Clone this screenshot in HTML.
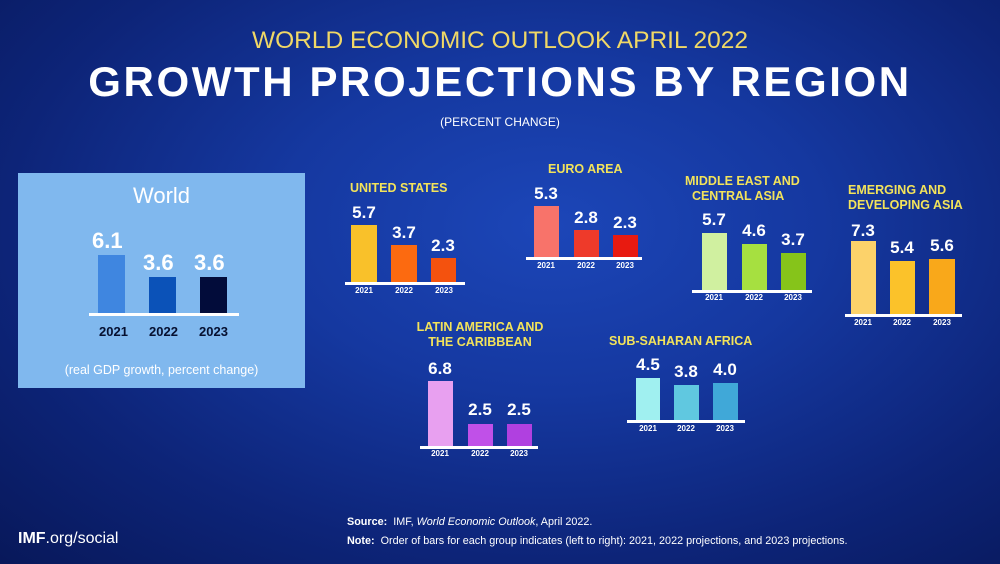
<!DOCTYPE html>
<html><head><meta charset="utf-8"><style>
*{margin:0;padding:0}
body{width:1000px;height:564px;overflow:hidden;position:relative;font-family:"Liberation Sans",sans-serif;
background:radial-gradient(ellipse at 55% 40%,#1c46b8 0%,#1538a0 35%,#0d2478 70%,#08185a 100%);}
.a{position:absolute}
.t{position:absolute;color:#fff;font-weight:bold;white-space:nowrap}
.y{position:absolute;color:#fff;font-weight:bold;font-size:8px;text-align:center;width:30px}
.h{position:absolute;color:#f3e35a;font-weight:bold;font-size:12.5px;line-height:15px;white-space:nowrap}
.v{position:absolute;color:#fff;font-weight:bold;font-size:17px;text-align:center;width:40px}
.ln{position:absolute;height:3px;background:#fff}
</style></head><body>
<div class="a" style="left:0;top:27px;width:1000px;text-align:center;color:#f0d866;font-size:24.5px">WORLD ECONOMIC OUTLOOK APRIL 2022</div>
<div class="a" style="left:0;top:58px;width:1000px;text-align:center;color:#fff;font-size:42px;font-weight:900;letter-spacing:2.6px">GROWTH PROJECTIONS BY REGION</div>
<div class="a" style="left:0;top:115px;width:1000px;text-align:center;color:#fff;font-size:12px">(PERCENT CHANGE)</div>

<div class="a" style="left:18px;top:173px;width:287px;height:215px;background:#80b8ee"></div>
<div class="a" style="left:18px;top:183px;width:287px;text-align:center;color:#fff;font-size:22px">World</div>
<div class="a" style="left:98px;top:255px;width:27px;height:58px;background:#3f86e0"></div>
<div class="a" style="left:149px;top:277px;width:27px;height:36px;background:#0b52b8"></div>
<div class="a" style="left:200px;top:277px;width:27px;height:36px;background:#020c3a"></div>
<div class="ln" style="left:89px;top:313px;width:150px"></div>
<div class="t" style="left:92px;top:228px;font-size:22px">6.1</div>
<div class="t" style="left:143px;top:250px;font-size:22px">3.6</div>
<div class="t" style="left:194px;top:250px;font-size:22px">3.6</div>
<div class="t" style="left:99px;top:324px;font-size:13px;color:#061030">2021</div>
<div class="t" style="left:149px;top:324px;font-size:13px;color:#061030">2022</div>
<div class="t" style="left:199px;top:324px;font-size:13px;color:#061030">2023</div>
<div class="a" style="left:18px;top:363px;width:287px;text-align:center;color:#fff;font-size:12.5px">(real GDP growth, percent change)</div>

<!-- US -->
<div class="h" style="left:350px;top:181px">UNITED STATES</div>
<div class="a" style="left:351px;top:225px;width:26px;height:58px;background:#f9c12a"></div>
<div class="a" style="left:391px;top:245px;width:26px;height:38px;background:#fc6a10"></div>
<div class="a" style="left:431px;top:258px;width:25px;height:25px;background:#f4520e"></div>
<div class="ln" style="left:345px;top:282px;width:120px"></div>
<div class="v" style="left:344px;top:203px">5.7</div><div class="v" style="left:384px;top:223px">3.7</div><div class="v" style="left:423px;top:236px">2.3</div>
<div class="y" style="left:349px;top:286px">2021</div><div class="y" style="left:389px;top:286px">2022</div><div class="y" style="left:429px;top:286px">2023</div>

<!-- Euro -->
<div class="h" style="left:548px;top:162px">EURO AREA</div>
<div class="a" style="left:534px;top:206px;width:25px;height:52px;background:#f8736a"></div>
<div class="a" style="left:574px;top:230px;width:25px;height:28px;background:#ee3a2a"></div>
<div class="a" style="left:613px;top:235px;width:25px;height:23px;background:#e81a10"></div>
<div class="ln" style="left:526px;top:257px;width:116px"></div>
<div class="v" style="left:526px;top:184px">5.3</div><div class="v" style="left:566px;top:208px">2.8</div><div class="v" style="left:605px;top:213px">2.3</div>
<div class="y" style="left:531px;top:261px">2021</div><div class="y" style="left:571px;top:261px">2022</div><div class="y" style="left:610px;top:261px">2023</div>

<!-- MECA -->
<div class="h" style="left:685px;top:174px">MIDDLE EAST AND<br>&nbsp;&nbsp;CENTRAL ASIA</div>
<div class="a" style="left:702px;top:233px;width:25px;height:58px;background:#d0f0a0"></div>
<div class="a" style="left:742px;top:244px;width:25px;height:47px;background:#a6e040"></div>
<div class="a" style="left:781px;top:253px;width:25px;height:38px;background:#86c41a"></div>
<div class="ln" style="left:692px;top:290px;width:120px"></div>
<div class="v" style="left:694px;top:210px">5.7</div><div class="v" style="left:734px;top:221px">4.6</div><div class="v" style="left:773px;top:230px">3.7</div>
<div class="y" style="left:699px;top:293px">2021</div><div class="y" style="left:739px;top:293px">2022</div><div class="y" style="left:778px;top:293px">2023</div>

<!-- Asia -->
<div class="h" style="left:848px;top:183px">EMERGING AND<br>DEVELOPING ASIA</div>
<div class="a" style="left:851px;top:241px;width:25px;height:74px;background:#fcd26a"></div>
<div class="a" style="left:890px;top:261px;width:25px;height:54px;background:#fbc22a"></div>
<div class="a" style="left:929px;top:259px;width:26px;height:56px;background:#f9a81a"></div>
<div class="ln" style="left:845px;top:314px;width:117px"></div>
<div class="v" style="left:843px;top:221px">7.3</div><div class="v" style="left:882px;top:238px">5.4</div><div class="v" style="left:922px;top:236px">5.6</div>
<div class="y" style="left:848px;top:318px">2021</div><div class="y" style="left:887px;top:318px">2022</div><div class="y" style="left:927px;top:318px">2023</div>

<!-- LatAm -->
<div class="h" style="left:410px;top:320px;width:140px;text-align:center">LATIN AMERICA AND<br>THE CARIBBEAN</div>
<div class="a" style="left:428px;top:381px;width:25px;height:66px;background:#e8a0f0"></div>
<div class="a" style="left:468px;top:424px;width:25px;height:23px;background:#c050e8"></div>
<div class="a" style="left:507px;top:424px;width:25px;height:23px;background:#b040e0"></div>
<div class="ln" style="left:420px;top:446px;width:118px"></div>
<div class="v" style="left:420px;top:359px">6.8</div><div class="v" style="left:460px;top:400px">2.5</div><div class="v" style="left:499px;top:400px">2.5</div>
<div class="y" style="left:425px;top:449px">2021</div><div class="y" style="left:465px;top:449px">2022</div><div class="y" style="left:504px;top:449px">2023</div>

<!-- SSA -->
<div class="h" style="left:609px;top:334px">SUB-SAHARAN AFRICA</div>
<div class="a" style="left:636px;top:378px;width:24px;height:43px;background:#a0f0f0"></div>
<div class="a" style="left:674px;top:385px;width:25px;height:36px;background:#60c8e0"></div>
<div class="a" style="left:713px;top:383px;width:25px;height:38px;background:#40a8d8"></div>
<div class="ln" style="left:627px;top:420px;width:118px"></div>
<div class="v" style="left:628px;top:355px">4.5</div><div class="v" style="left:666px;top:362px">3.8</div><div class="v" style="left:705px;top:360px">4.0</div>
<div class="y" style="left:633px;top:424px">2021</div><div class="y" style="left:671px;top:424px">2022</div><div class="y" style="left:710px;top:424px">2023</div>

<div class="a" style="left:18px;top:530px;color:#fff;font-size:16px"><b>IMF</b>.org/social</div>
<div class="a" style="left:347px;top:516px;color:#fff;font-size:10.8px"><b>Source:</b>&nbsp; IMF, <i>World Economic Outlook</i>, April 2022.</div>
<div class="a" style="left:347px;top:535px;color:#fff;font-size:10.8px"><b>Note:</b>&nbsp; Order of bars for each group indicates (left to right): 2021, 2022 projections, and 2023 projections.</div>
</body></html>
